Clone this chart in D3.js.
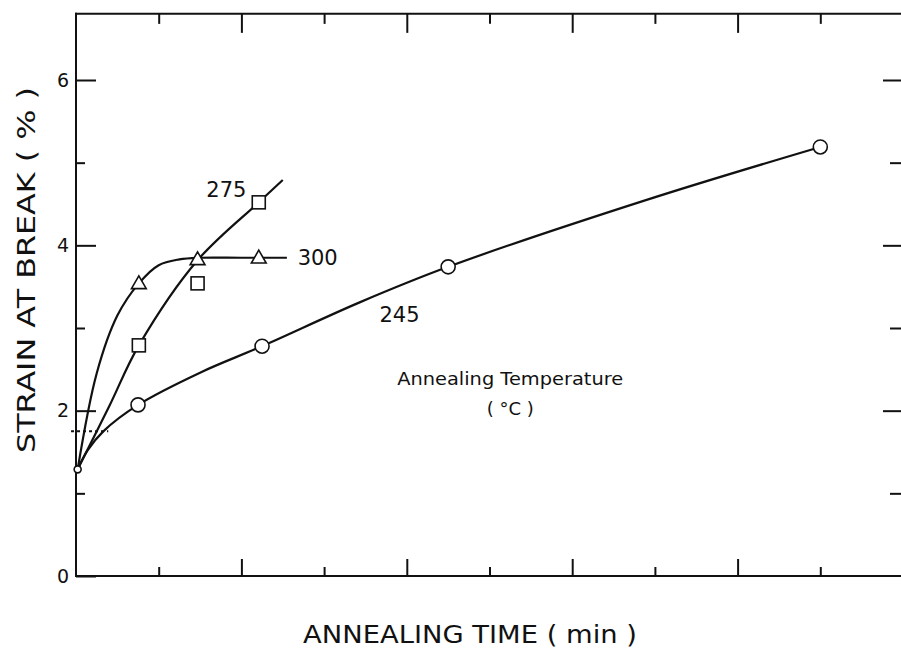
<!DOCTYPE html>
<html>
<head>
<meta charset="utf-8">
<script src="https://cdn.jsdelivr.net/npm/d3@7"></script>
<style>
  html, body { margin: 0; padding: 0; background: #fff; overflow: hidden; }
  svg { display: block; overflow: hidden; }
  text { font-family: "DejaVu Sans", sans-serif; fill: #111; }
</style>
</head>
<body>
<svg id="chart" width="901" height="650" viewBox="0 0 901 650"></svg>
<script>
// ---- data ----
const originTime = [0.02];
const originStrain = [1.29];

const times245 = [0.75, 2.25, 4.5, 9.0];
const strain245 = [2.07, 2.78, 3.74, 5.19];

const times275 = [0.76, 1.47, 2.21];
const strain275 = [2.79, 3.54, 4.52];

const times300 = [0.76, 1.47, 2.21];
const strain300 = [3.54, 3.83, 3.85];

// hand-drawn fit curves
const fit245Time = [0.02, 0.14, 0.33, 0.75, 1.5, 2.25, 3.43, 4.5, 6.9, 9.0];
const fit245Strain = [1.29, 1.52, 1.75, 2.07, 2.46, 2.78, 3.31, 3.74, 4.55, 5.19];

const fit275Time = [0.02, 0.4, 0.76, 1.47, 2.21, 2.5];
const fit275Strain = [1.29, 2.05, 2.79, 3.82, 4.52, 4.79];

const fit300Time = [0.02, 0.25, 0.5, 0.76, 1.0, 1.25, 1.5, 2.0, 2.55];
const fit300Strain = [1.29, 2.45, 3.15, 3.54, 3.76, 3.83, 3.85, 3.85, 3.85];

const dottedTime = [-0.06, 0.39];
const dottedStrain = [1.75, 1.75];

const xMajorTicks = [2, 4, 6, 8];
const xMinorTicks = [1, 3, 5, 7, 9];
const yLabelTicks = [0, 2, 4, 6];
const yMinorTicks = [1, 3, 5];

const seriesLabels = ["245", "275", "300"];
const yTitle = "STRAIN AT BREAK ( % )";
const xTitle = "ANNEALING TIME ( min )";
const noteLine1 = "Annealing Temperature";
const noteLine2 = "( °C )";

// ---- drawing ----
const svg = d3.select("#chart");
const x = d3.scaleLinear().domain([0, 10]).range([76, 903]);
const y = d3.scaleLinear().domain([0, 6]).range([576, 80]);
const yTop = 6.8;

const ink = "#111";

// frame: left, top, bottom (right edge lies just outside the picture)
const frame = [[0, yTop, 0, 0], [0, 0, 10, 0], [0, yTop, 10, yTop]];
svg.selectAll(".frame").data(frame).join("line")
  .attr("x1", d => x(d[0])).attr("y1", d => y(d[1]))
  .attr("x2", d => x(d[2])).attr("y2", d => y(d[3]))
  .attr("stroke", ink).attr("stroke-width", 2).attr("stroke-linecap", "square");

function styleAxis(g) {
  g.select(".domain").remove();
  g.selectAll(".tick line").attr("stroke", ink).attr("stroke-width", 2);
}

// bottom ticks (inward)
svg.append("g").attr("transform", `translate(0,${y(0)})`)
  .call(d3.axisBottom(x).tickValues(xMajorTicks).tickSize(-17).tickFormat(""))
  .call(styleAxis);
svg.append("g").attr("transform", `translate(0,${y(0)})`)
  .call(d3.axisBottom(x).tickValues(xMinorTicks).tickSize(-9).tickFormat(""))
  .call(styleAxis);
// top ticks (inward)
svg.append("g").attr("transform", `translate(0,${y(yTop)})`)
  .call(d3.axisTop(x).tickValues(xMajorTicks).tickSize(-19).tickFormat(""))
  .call(styleAxis);
svg.append("g").attr("transform", `translate(0,${y(yTop)})`)
  .call(d3.axisTop(x).tickValues(xMinorTicks).tickSize(-10).tickFormat(""))
  .call(styleAxis);
// left ticks
const yl = svg.append("g").attr("transform", `translate(${x(0)},0)`)
  .call(d3.axisLeft(y).tickValues(yLabelTicks).tickSize(-20).tickPadding(7).tickFormat(d3.format("d")))
  .call(styleAxis);
yl.selectAll(".tick text").attr("font-size", 19).attr("font-family", "DejaVu Sans").attr("fill", ink);
svg.append("g").attr("transform", `translate(${x(0)},0)`)
  .call(d3.axisLeft(y).tickValues(yMinorTicks).tickSize(-9).tickFormat(""))
  .call(styleAxis);
// right ticks
svg.append("g").attr("transform", `translate(${x(10)},0)`)
  .call(d3.axisRight(y).tickValues([2, 4, 6]).tickSize(-20).tickFormat(""))
  .call(styleAxis);
svg.append("g").attr("transform", `translate(${x(10)},0)`)
  .call(d3.axisRight(y).tickValues(yMinorTicks).tickSize(-13).tickFormat(""))
  .call(styleAxis);

// curves
const line = d3.line().x(d => x(d[0])).y(d => y(d[1])).curve(d3.curveCatmullRom.alpha(0.5));
function drawFit(tx, sy) {
  svg.append("path").datum(tx.map((t, i) => [t, sy[i]]))
    .attr("d", line).attr("fill", "none").attr("stroke", ink).attr("stroke-width", 2.2);
}
drawFit(fit245Time, fit245Strain);
drawFit(fit275Time, fit275Strain);
drawFit(fit300Time, fit300Strain);

// dotted extrapolation
svg.append("path").datum(dottedTime.map((t, i) => [t, dottedStrain[i]]))
  .attr("d", d3.line().x(d => x(d[0])).y(d => y(d[1])))
  .attr("stroke", ink).attr("stroke-width", 2).attr("stroke-dasharray", "3,3").attr("fill", "none");

// markers
const white = "#fff";
svg.selectAll(".origin").data(originTime.map((t, i) => [t, originStrain[i]])).join("circle")
  .attr("cx", d => x(d[0])).attr("cy", d => y(d[1])).attr("r", 3.5)
  .attr("fill", white).attr("stroke", ink).attr("stroke-width", 1.6);

svg.selectAll(".c245").data(times245.map((t, i) => [t, strain245[i]])).join("circle")
  .attr("cx", d => x(d[0])).attr("cy", d => y(d[1])).attr("r", 7)
  .attr("fill", white).attr("stroke", ink).attr("stroke-width", 1.6);

const sq = 13;
svg.selectAll(".s275").data(times275.map((t, i) => [t, strain275[i]])).join("rect")
  .attr("x", d => x(d[0]) - sq / 2).attr("y", d => y(d[1]) - sq / 2)
  .attr("width", sq).attr("height", sq)
  .attr("fill", white).attr("stroke", ink).attr("stroke-width", 1.6);

const tri = d3.symbol().type(d3.symbolTriangle).size(95);
svg.selectAll(".t300").data(times300.map((t, i) => [t, strain300[i]])).join("path")
  .attr("d", tri)
  .attr("transform", d => `translate(${x(d[0])},${y(d[1]) + 1})`)
  .attr("fill", white).attr("stroke", ink).attr("stroke-width", 1.6);

// series labels
svg.append("text").text(seriesLabels[0])
  .attr("x", x(3.67)).attr("y", y(3.17)).attr("dy", "0.36em")
  .attr("font-size", 21);
svg.append("text").text(seriesLabels[1])
  .attr("x", x(2.06)).attr("y", y(4.68)).attr("dy", "0.36em").attr("text-anchor", "end")
  .attr("font-size", 21);
svg.append("text").text(seriesLabels[2])
  .attr("x", x(2.68)).attr("y", y(3.85)).attr("dy", "0.36em")
  .attr("font-size", 21);

// note
svg.append("text").text(noteLine1)
  .attr("x", x(5.25)).attr("y", y(2.39)).attr("dy", "0.36em").attr("text-anchor", "middle")
  .attr("font-size", 18).attr("textLength", 226).attr("lengthAdjust", "spacingAndGlyphs");
svg.append("text").text(noteLine2)
  .attr("x", x(5.25)).attr("y", y(2.03)).attr("dy", "0.36em").attr("text-anchor", "middle")
  .attr("font-size", 18);

// axis titles
svg.append("text").text(xTitle)
  .attr("x", 470).attr("y", 634).attr("dy", "0.36em").attr("text-anchor", "middle")
  .attr("font-size", 24).attr("textLength", 334).attr("lengthAdjust", "spacingAndGlyphs");
svg.append("text").text(yTitle)
  .attr("transform", "translate(26,270) rotate(-90)")
  .attr("dy", "0.36em").attr("text-anchor", "middle")
  .attr("font-size", 24).attr("textLength", 366).attr("lengthAdjust", "spacingAndGlyphs");
</script>
</body>
</html>
